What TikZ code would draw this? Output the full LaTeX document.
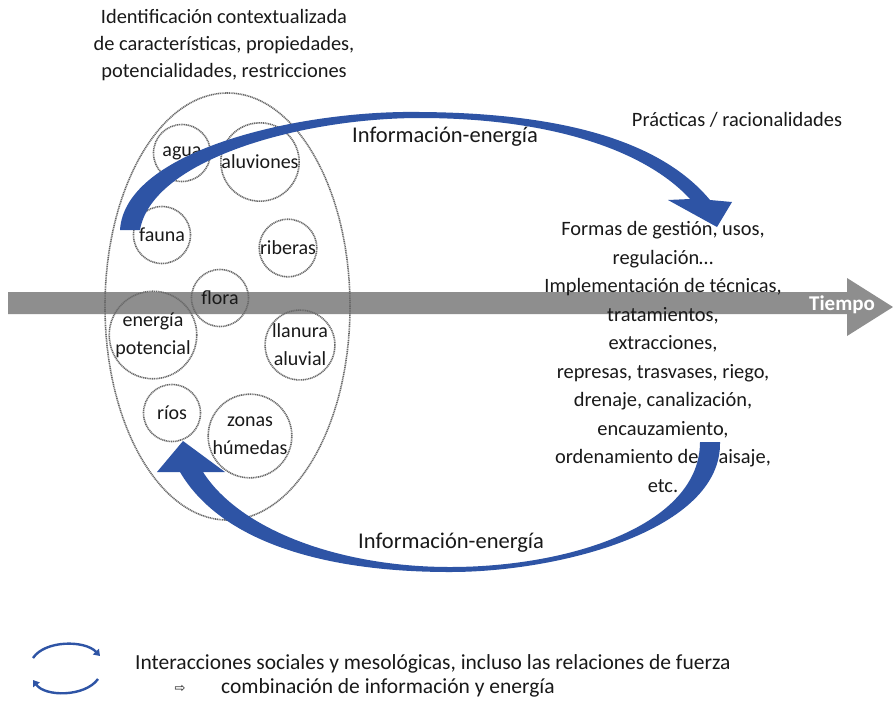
\documentclass[tikz,border=0pt]{standalone}
\usepackage{fontspec}
\setmainfont{Carlito}
\newfontfamily\symfnt{DejaVu Sans}
\usetikzlibrary{arrows.meta,shapes.geometric}
\definecolor{arrowblue}{RGB}{46,84,165}
\definecolor{bandgray}{RGB}{142,142,142}
\definecolor{dotgray}{RGB}{105,105,105}
\definecolor{txtcol}{RGB}{25,25,25}
\begin{document}
\begin{tikzpicture}[x=1pt,y=-1pt,
  txt/.style={font=\fontsize{20.4}{28.5}\selectfont, text=txtcol, align=center, inner sep=0pt},
  dotline/.style={draw=dotgray, line width=1.6pt, dash pattern=on 1.1pt off 0.7pt},
  elem/.style={circle, dotline, minimum size=57pt, inner sep=0pt, font=\fontsize{20}{28}\selectfont, align=center, text=txtcol},
  blockarrow/.style={fill=arrowblue, draw=none},
  legarrow/.style={draw=arrowblue, line width=2.4pt, -{Triangle[length=6pt,width=8pt]}}
]
\useasboundingbox (0,0) rectangle (893,705);
\fill[white] (0,0) rectangle (893,705);

% time arrow
\fill[bandgray] (8,292) -- (847,292) -- (847,278) -- (893,307) -- (847,336) -- (847,314) -- (8,314) -- cycle;
\node[font=\bfseries\fontsize{21}{24}\selectfont, text=white, inner sep=0pt] (tiempo) at (842,305) {Tiempo};

% environment ellipse
\node[ellipse, dotline, minimum width=245pt, minimum height=427pt, inner sep=0pt] (env) at (227.5,306.5) {};

% elements
\node[elem] (agua) at (182,153) {agua};
\node[elem] (aluv) at (260,162) {aluviones};
\node[elem] (fauna) at (162,235) {fauna};
\node[elem] (rib) at (288,248) {riberas};
\node[elem] (flora) at (220,298) {flora};
\node[elem] (energ) at (153,335) {energía\\potencial};
\node[elem] (llan) at (300,345) {llanura\\aluvial};
\node[elem] (rios) at (172,413) {ríos};
\node[elem] (zonas) at (250,436) {zonas\\húmedas};

% texts
\node[txt, font=\fontsize{20.4}{27}\selectfont] (ident) at (224,45) {Identificación contextualizada\\de características, propiedades,\\potencialidades, restricciones};
\node[txt] (pract) at (737,120) {Prácticas / racionalidades};
\node[txt, font=\fontsize{22.5}{26}\selectfont] (ie1) at (445,137) {Información-energía};
\node[txt, font=\fontsize{22.5}{26}\selectfont] (ie2) at (451,543) {Información-energía};
\node[txt] (formas) at (663,357) {Formas de gestión, usos,\\regulación…\\Implementación de técnicas,\\tratamientos,\\extracciones,\\represas, trasvases, riego,\\drenaje, canalización,\\encauzamiento,\\ordenamiento del paisaje,\\etc.};

% top blue arrow
\fill[blockarrow] (120,230) .. controls (125,150) and (300,110) .. (420,112)
  .. controls (560,113) and (660,140) .. (710,200)
  -- (732,202) -- (717,227) -- (668,200) -- (690,199)
  .. controls (645,150) and (550,118) .. (420,118)
  .. controls (300,118) and (152,160) .. (140,230) -- cycle;

% bottom blue arrow
\fill[blockarrow] (720,442) .. controls (722,530) and (560,572) .. (450,572)
  .. controls (320,572) and (220,540) .. (180,472)
  -- (157,472) -- (183,441) -- (225,472) -- (203,472)
  .. controls (240,530) and (340,567) .. (450,567)
  .. controls (570,567) and (700,525) .. (700,442) -- cycle;

% legend
\coordinate (la1) at (33,658);
\coordinate (la2) at (100,656);
\coordinate (lb1) at (98,679);
\coordinate (lb2) at (33,680);
\draw[legarrow] (la1) .. controls (45,640) and (85,640) .. (la2);
\draw[legarrow] (lb1) .. controls (85,697) and (45,697) .. (lb2);
\node[txt, anchor=west, font=\fontsize{21.5}{26}\selectfont] (leg1) at (135,664) {Interacciones sociales y mesológicas, incluso las relaciones de fuerza};
\node[txt, anchor=center, font=\symfnt\fontsize{13}{15}\selectfont] (legarr) at (180,689) {⇨};
\node[txt, anchor=west, font=\fontsize{21.5}{26}\selectfont] (leg2) at (221,688) {combinación de información y energía};
\end{tikzpicture}
\end{document}
